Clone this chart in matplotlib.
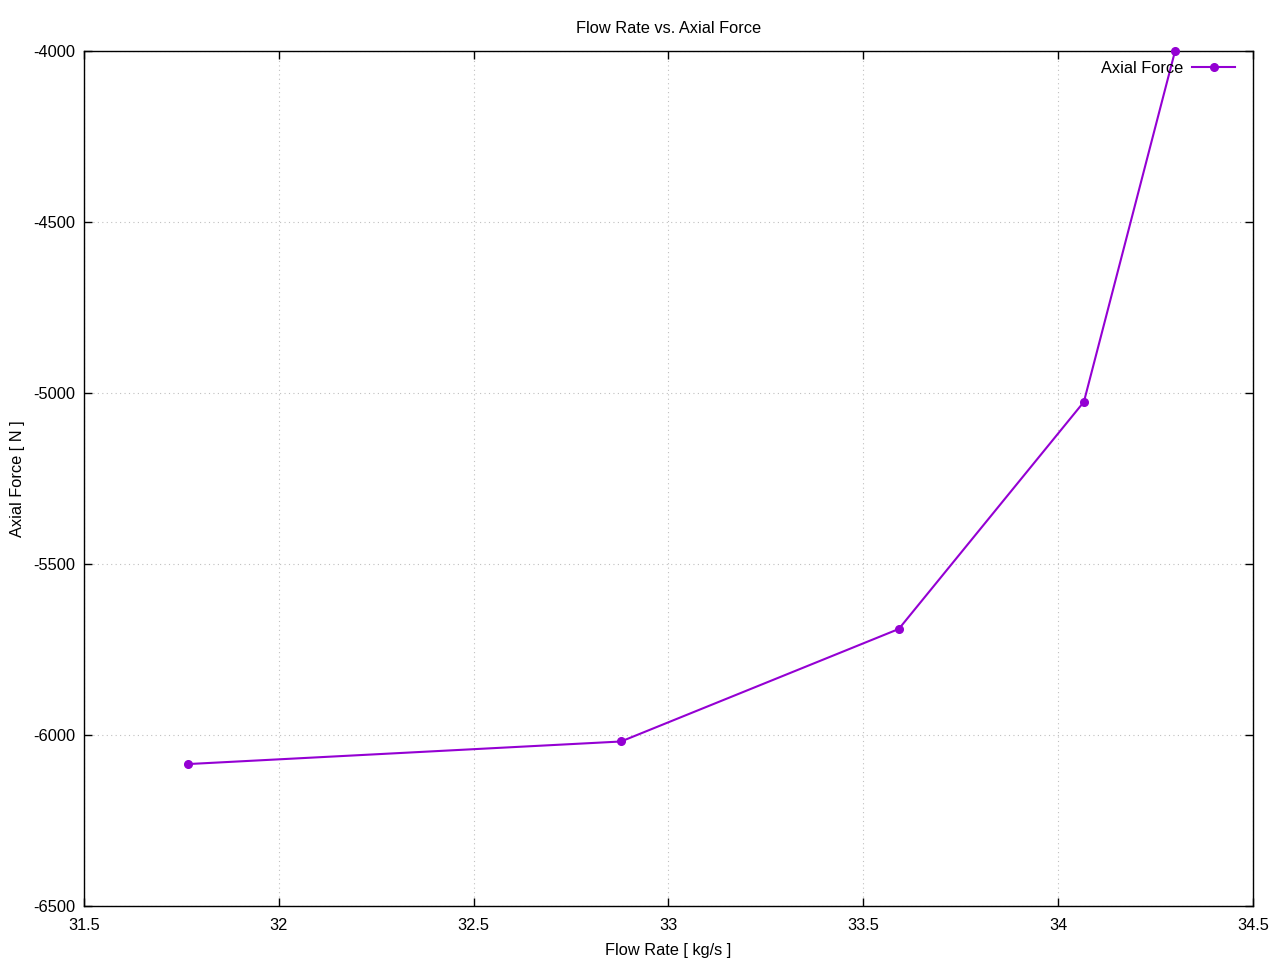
import matplotlib
matplotlib.use("Agg")
import matplotlib.pyplot as plt

plt.rcParams['font.family'] = ['Liberation Sans', 'DejaVu Sans']

flow_rate = [31.767, 32.878, 33.591, 34.066, 34.300]
axial_force = [-6085, -6019, -5690, -5026, -4000]
xticks = [31.5, 32, 32.5, 33, 33.5, 34, 34.5]
xticklabels = ['31.5', '32', '32.5', '33', '33.5', '34', '34.5']
yticks = [-6500, -6000, -5500, -5000, -4500, -4000]
yticklabels = ['-6500', '-6000', '-5500', '-5000', '-4500', '-4000']

FS = 11.8

fig = plt.figure(figsize=(12.8, 9.6), dpi=100)
ax = fig.add_axes([84/1280, 54/960, (1253-84)/1280, (906-51)/960])

ax.plot(flow_rate, axial_force, color='#9400D3', lw=1.5, marker='o', ms=5.5,
        label='Axial Force', clip_on=False, zorder=3)

ax.set_xlim(31.5, 34.5)
ax.set_ylim(-6500, -4000)
ax.set_xticks(xticks)
ax.set_xticklabels(xticklabels)
ax.set_yticks(yticks)
ax.set_yticklabels(yticklabels)
ax.tick_params(direction='in', top=True, right=True, length=6, width=1,
               labelsize=FS, colors='black')
ax.tick_params(axis='x', pad=8.5)
ax.tick_params(axis='y', pad=6)
ax.grid(True, color='#c0c0c0', linestyle=(0, (1, 3)), linewidth=0.8)
for s in ax.spines.values():
    s.set_linewidth(1)
    s.set_color('black')

ax.set_title('Flow Rate vs. Axial Force', fontsize=FS, pad=13)
ax.set_xlabel('Flow Rate [ kg/s ]', fontsize=FS, labelpad=7)
ax.set_ylabel('Axial Force [ N ]', fontsize=FS, labelpad=6)

leg = ax.legend(loc='upper right', frameon=False, markerfirst=False,
                fontsize=FS, handlelength=2.6, handletextpad=0.55,
                borderaxespad=0, bbox_to_anchor=(0.9903, 0.996))

fig.savefig('out.png', dpi=100)
